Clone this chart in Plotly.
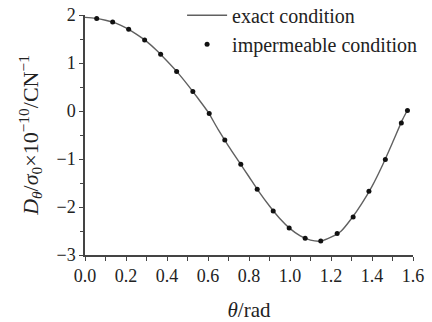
import plotly.graph_objects as go

# exact condition curve
theta_exact = [0.0, 0.05, 0.1, 0.15, 0.2, 0.25, 0.3, 0.35, 0.4, 0.45, 0.5, 0.55,
               0.6, 0.65, 0.7, 0.75, 0.8, 0.85, 0.9, 0.95, 1.0, 1.05, 1.1, 1.15,
               1.2, 1.25, 1.3, 1.35, 1.4, 1.45, 1.5, 1.55, 1.5708]
d_exact = [1.95, 1.93, 1.89, 1.83, 1.73, 1.60, 1.45, 1.26, 1.04, 0.81, 0.55, 0.27,
           -0.02, -0.39, -0.73, -1.05, -1.37, -1.69, -1.98, -2.24, -2.45, -2.60, -2.69, -2.71,
           -2.63, -2.50, -2.24, -1.93, -1.57, -1.14, -0.66, -0.17, 0.0]

# impermeable condition points
theta_imp = [0.057, 0.135, 0.213, 0.291, 0.369, 0.447, 0.526, 0.606, 0.682, 0.760,
             0.840, 0.918, 0.996, 1.074, 1.150, 1.230, 1.308, 1.385, 1.465, 1.543, 1.573]
d_imp = [1.925, 1.854, 1.702, 1.479, 1.181, 0.821, 0.404, -0.054, -0.604, -1.110,
         -1.631, -2.083, -2.438, -2.652, -2.708, -2.554, -2.208, -1.673, -1.012, -0.25, 0.01]

x_tickvals = [0.0, 0.2, 0.4, 0.6, 0.8, 1.0, 1.2, 1.4, 1.6]
x_ticktext = ["0.0", "0.2", "0.4", "0.6", "0.8", "1.0", "1.2", "1.4", "1.6"]
y_tickvals = [-3, -2, -1, 0, 1, 2]
y_ticktext = ["\u22123", "\u22122", "\u22121", "0", "1", "2"]

FONT = "Liberation Serif, DejaVu Serif, serif"
AX = "#444444"
TXT = "#222222"

fig = go.Figure()
fig.add_trace(go.Scatter(x=theta_exact, y=d_exact, mode="lines", name="exact condition",
                         line=dict(color="#606060", width=1.4, shape="spline", smoothing=0.6)))
fig.add_trace(go.Scatter(x=theta_imp, y=d_imp, mode="markers", name="impermeable condition",
                         marker=dict(color="#111111", size=5)))

fig.update_layout(
    width=432, height=322,
    margin=dict(l=85, r=19, t=15, b=67, autoexpand=False),
    paper_bgcolor="white", plot_bgcolor="white",
    font=dict(family=FONT, size=18, color=TXT),
    showlegend=True,
    legend=dict(x=0.296, y=1.08, xanchor="left", yanchor="top", bgcolor="rgba(0,0,0,0)",
                font=dict(family=FONT, size=20, color=TXT), itemwidth=40,
                tracegroupgap=0),
    xaxis=dict(range=[0, 1.6], tickvals=x_tickvals, ticktext=x_ticktext, automargin=False,
               showline=True, linecolor=AX, linewidth=1.5, ticks="outside", ticklen=4,
               tickcolor=AX, tickwidth=1, showgrid=False, zeroline=False,
               tickfont=dict(family=FONT, size=18, color=TXT),
               minor=dict(dtick=0.1, tick0=0, ticks="outside", ticklen=4, tickcolor=AX),
               title=dict(text="<i>θ</i>/rad", standoff=17,
                          font=dict(family=FONT, size=21, color=TXT))),
    yaxis=dict(range=[-3, 2], tickvals=y_tickvals, ticktext=y_ticktext, automargin=False,
               showline=True, linecolor=AX, linewidth=1.5, ticks="outside", ticklen=4,
               tickcolor=AX, tickwidth=1, showgrid=False, zeroline=False,
               tickfont=dict(family=FONT, size=18, color=TXT),
               minor=dict(dtick=0.5, tick0=0, ticks="outside", ticklen=3, tickcolor=AX),
               title=dict(text="<i>D</i><sub><i>θ</i></sub>/<i>σ</i><sub>0</sub>×10<sup>−10</sup>/CN<sup>−1</sup>",
                          standoff=12, font=dict(family=FONT, size=22, color=TXT))),
)

# remove the browser's default 8px body margin so the figure fills the window
fig.write_html("out.html", config={"displayModeBar": False},
               post_script="document.body.style.margin='0';")
